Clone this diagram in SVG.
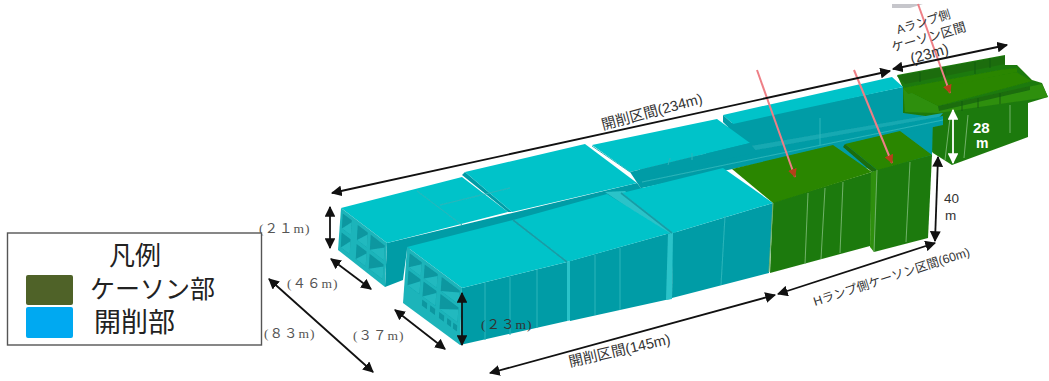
<svg xmlns="http://www.w3.org/2000/svg" width="1049" height="381" viewBox="0 0 1049 381">
<style>
.top{fill:#05c3c9}.side{fill:#049ca6}.seam{fill:#2cc3c9}.strip{fill:#19a9b2}.gtop{fill:#2a8600}.gside{fill:#1f7a0c}.gdark{fill:#1a6d10}.gmid{fill:#2f8f10}
.pl{stroke:#2ab5ba;stroke-width:1;fill:none}.sl{stroke:#189da6;stroke-width:1.6;fill:none}.gl{stroke:#6fb26a;stroke-width:1;fill:none}.gk{stroke:#145f0c;stroke-width:1;fill:none}
.hole{fill:#0a97a0}.lite{fill:#20b9bf}.face{fill:#1fb4ba}
.dim{stroke:#111;stroke-width:1.8;fill:none;marker-start:url(#a);marker-end:url(#a)}
.dimw{stroke:#fff;stroke-width:1.8;fill:none;marker-start:url(#w);marker-end:url(#w)}
.red{stroke:#ee7f86;stroke-width:2;fill:none;marker-end:url(#r)}
text{font-family:"Liberation Sans","Noto Sans CJK JP",sans-serif;fill:#333}
.s{font-family:"Liberation Serif","Noto Sans CJK JP",serif;font-size:13.5px;fill:#555;letter-spacing:1px}
.l{fill:#222}
</style>
<defs>
<marker id="a" viewBox="0 0 10 10" refX="9" refY="5" markerWidth="6" markerHeight="6" orient="auto-start-reverse" markerUnits="strokeWidth"><path d="M0 0L10 5L0 10Z" fill="#111"/></marker>
<marker id="w" viewBox="0 0 10 10" refX="9" refY="5" markerWidth="6" markerHeight="6" orient="auto-start-reverse" markerUnits="strokeWidth"><path d="M0 0L10 5L0 10Z" fill="#fff"/></marker>
<marker id="r" viewBox="0 0 10 10" refX="9" refY="5" markerWidth="4.5" markerHeight="4.5" orient="auto" markerUnits="strokeWidth"><path d="M0 0L10 5L0 10Z" fill="#b5401a"/></marker>
<filter id="soft" x="-5%" y="-5%" width="110%" height="110%"><feGaussianBlur stdDeviation="0.45"/></filter>
</defs>
<rect width="1049" height="381" fill="#fff"/>
<g id="model" filter="url(#soft)">
<g id="caisson-a">
<polygon class="gside" points="897,75 1005,55 1005,65 1017,65 1032,80 1042,83 1048,97 1028,103 1028,137 952,165 933,153 903,113 903,88"/>
<polygon class="gmid" points="903,88 938,106 938,113 905,112"/>
<polygon class="gdark" points="897,76 1005,56 1005,64 905,84"/>
<polygon class="gtop" points="910,92 1016,72 1032,81 938,106"/>
<polygon class="gmid" points="938,106 1042,84 1048,97 938,113"/>
<polygon class="gdark" points="938,106 1030,86 1030,90 939,111"/>
<path class="gk" d="M920 72V82M945 68V78M975 62V74M990 58V68M962 101V111M978 98V108M1000 93V104"/>
<path class="gl" d="M1010 105V133M968 115L964 158M950 118L945 160"/>
<polygon class="gtop" points="903,88 1000,70 1017,68 1017,72 908,94"/>
</g>
<g id="cut-upper-far">
<polygon class="side" points="733,122 903,87 903,113 933,117 932,157 874,170 763,145 700,160"/>
<polygon class="top" points="723,115 892,77 903,87 733,124"/>
<polygon class="side" points="723,115 733,124 733,132 723,122"/>
<polygon class="strip" points="640,165 943,113 937,120 640,178"/>
<polygon class="side" points="634,172 943,116 943,125 642,188"/>
<path class="pl" d="M642 182L943 120M820 118V145"/>
</g>
<g id="cut-upper">
<polygon class="side" points="387,243 637,183 650,200 673,233 513,222 407,250 403,280 385,287"/>
<polygon class="top" points="341,208 462,177 508,212 387,243"/>
<polygon class="side" points="462,175 465,172 512,212 508,212"/>
<polygon class="top" points="465,172 585,144 637,183 512,212"/>
<polygon class="top" points="592,145 717,119 750,143 630,172"/>
<polygon class="side" points="630,172 750,143 757,152 642,180 642,190"/>
<path class="pl" d="M417 191L462 225M440 205L510 188M592 146L630 172M668 165L670 158M692 160V153"/>
<polygon class="face" points="341,208 387,243 385,287 338,250"/>
<g transform="matrix(1 .76 -.06 1 341 208)">
<rect class="hole" x="2" y="4" width="9" height="15"/><rect class="hole" x="17" y="4" width="10" height="15"/><rect class="hole" x="30" y="4" width="14" height="15"/>
<rect class="hole" x="2" y="23" width="9" height="15"/><rect class="hole" x="17" y="23" width="10" height="15"/><rect class="hole" x="30" y="23" width="14" height="15"/>
<polygon class="lite" points="11,6 11,19 2,19"/><polygon class="lite" points="27,6 27,19 17,19"/><polygon class="lite" points="44,6 44,19 30,19"/>
<polygon class="lite" points="11,25 11,38 2,38"/><polygon class="lite" points="27,25 27,38 17,38"/><polygon class="lite" points="44,25 44,38 30,38"/>
</g>
</g>
<g id="cut-lower">
<polygon class="seam" points="605,192 625,191 677,232 670,236"/>
<polygon class="side" points="462,288 567,262 567,321 460,345"/>
<polygon class="seam" points="567,262 572,260 572,320 567,321"/>
<polygon class="side" points="570,261 670,233 670,299 570,321"/>
<polygon class="seam" points="668,234 674,232 672,299 666,300"/>
<polygon class="side" points="673,233 773,203 769,273 672,298"/>
<polygon class="top" points="407,247 513,220 567,262 462,288"/>
<polygon class="top" points="513,220 607,194 670,233 567,262"/>
<polygon class="top" points="622,193 723,168 773,203 673,233"/>
<path class="sl" d="M513 220L567 262M621 193L672 233"/>
<path class="pl" d="M485 283V340M510 277V335M537 270V328M595 255V315M620 248V310M725 216L721 285"/>
<polygon class="face" points="407,247 462,288 460,345 403,303"/>
<g transform="matrix(1 .745 -.07 1 407 247)">
<rect class="hole" x="3" y="4" width="12" height="14"/><rect class="hole" x="18" y="4" width="13" height="14"/><rect class="hole" x="35" y="4" width="18" height="14"/>
<rect class="hole" x="3" y="21" width="12" height="15"/><rect class="hole" x="18" y="21" width="13" height="15"/><rect class="hole" x="35" y="21" width="18" height="15"/>
<polygon class="lite" points="15,6 15,18 3,18"/><polygon class="lite" points="31,6 31,18 18,18"/><polygon class="lite" points="53,6 53,18 35,18"/>
<polygon class="lite" points="15,23 15,36 3,36"/><polygon class="lite" points="31,23 31,36 18,36"/><polygon class="lite" points="53,23 53,36 35,36"/>
<rect class="hole" x="18" y="39" width="5" height="6"/><rect class="hole" x="26" y="39" width="5" height="6"/><rect class="hole" x="35" y="39" width="5" height="6"/><rect class="hole" x="43" y="39" width="4" height="6"/><rect class="hole" x="49" y="39" width="4" height="6"/>
</g>
</g>
<g id="caisson-h">
<polygon class="gside" points="773,202 872,172 870,246 770,273"/>
<polygon class="gtop" points="732,169 833,145 872,172 773,203"/>
<path class="gl" d="M773 203L769 272M808 193L805 264M825 188L821 259M843 182L840 253"/>
<polygon class="gside" points="874,170 932,155 928,238 874,252"/>
<polygon class="gmid" points="871,172 877,170 874,252 870,247"/>
<polygon class="gtop" points="845,144 900,131 932,155 877,170"/>
<polygon class="gdark" points="845,144 877,170 872,172 843,147"/>
<path class="gl" d="M877 170L874 252M910 162L906 242"/>
</g>
</g>
<g id="sections">
<polygon points="892,4 923,4 910,8 892,8" fill="#c6c6cb"/>
<path class="red" d="M757 70L795 177"/>
<path class="red" d="M854 70L892 163"/>
<path class="red" d="M918 4L950 93"/>
</g>
<g id="connectors">
<path class="dim" d="M332 193L890 71"/>
<path class="dim" d="M893 69L1007 45"/>
<path class="dim" d="M778 294L935 243"/>
<path class="dim" d="M490 373L775 295"/>
<path class="dim" d="M935 241L938 157"/>
<path class="dimw" d="M953 110V163"/>
<path class="dim" d="M330 207V248"/>
<path class="dim" d="M331 259L371 289"/>
<path class="dim" d="M269 279L373 372"/>
<path class="dim" d="M395 310L445 349"/>
<path class="dim" d="M462 293V345"/>
</g>
<g id="labels">
<text x="603" y="130" font-size="14.5" transform="rotate(-15 603 130)">開削区間(234m)</text>
<text x="570" y="367" font-size="14.5" transform="rotate(-13 570 367)">開削区間(145m)</text>
<text x="815" y="306" font-size="12.3" transform="rotate(-18 815 306)">Hランプ側ケーソン区間(60m)</text>
<text x="898" y="34" font-size="12" transform="rotate(-17 898 34)">Aランプ側</text>
<text x="893" y="52" font-size="12.8" transform="rotate(-16 893 52)">ケーソン区間</text>
<text x="912" y="64" font-size="15" transform="rotate(-16 912 64)">(23m)</text>
<text x="973" y="133" font-size="15" font-weight="bold" style="fill:#fff">28</text>
<text x="976" y="148" font-size="14" font-weight="bold" style="fill:#fff">m</text>
<text x="944" y="203" font-size="13.5">40</text>
<text x="945" y="220" font-size="13.5">m</text>
<text class="s" x="259" y="233">(２１m)</text>
<text class="s" x="287" y="288">(４６m)</text>
<text class="s" x="264" y="338">(８３m)</text>
<text class="s" x="353" y="340">(３７m)</text>
<text class="s" x="481" y="329" style="fill:#333">(２３m)</text>
</g>
<g id="legend">
<rect x="7.5" y="233" width="254" height="112" fill="#fff" stroke="#555" stroke-width="1.4"/>
<rect x="26" y="275" width="47" height="30" rx="2" fill="#4f6228"/>
<rect x="26" y="307" width="47" height="31" rx="2" fill="#00a9f1"/>
<text class="l" x="109" y="265" font-size="26">凡例</text>
<text class="l" x="90" y="298" font-size="25">ケーソン部</text>
<text class="l" x="94" y="332" font-size="27">開削部</text>
</g>
</svg>
